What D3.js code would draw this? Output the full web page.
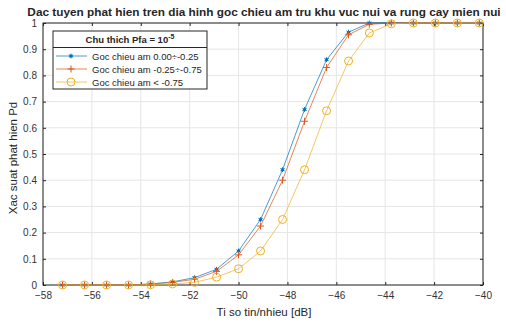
<!DOCTYPE html>
<html lang="vi">
<head>
<meta charset="UTF-8">
<script src="https://cdn.jsdelivr.net/npm/d3@7"></script>
<title>Dac tuyen phat hien</title>
<style>
    body { margin: 0; background: #fff; }
    text { font-family: "Liberation Sans", Arial, Helvetica, sans-serif; fill: #262626; }
    .grid line { stroke: #e6e6e6; stroke-width: 1; }
</style>
</head>
<body>
<script>
    // SNR (dB) va xac suat phat hien cho 3 khoang goc chieu am
    var snr = [-57.2, -56.3, -55.4, -54.5, -53.6, -52.7, -51.8, -50.9, -50.0, -49.1,
               -48.2, -47.3, -46.4, -45.5, -44.65, -43.75, -42.85, -41.95, -41.05, -40.15];
    var pdBlue = [0, 0, 0, 0, 0.004, 0.012, 0.028, 0.06, 0.13, 0.25,
                  0.44, 0.67, 0.86, 0.965, 1, 1, 1, 1, 1, 1];
    var pdRed = [0, 0, 0, 0, 0.003, 0.01, 0.022, 0.052, 0.115, 0.225,
                 0.40, 0.625, 0.83, 0.955, 0.995, 1, 1, 1, 1, 1];
    var pdYellow = [0, 0, 0, 0, 0.001, 0.004, 0.01, 0.03, 0.062, 0.13,
                    0.25, 0.44, 0.665, 0.855, 0.962, 0.997, 1, 1, 1, 1];
    var xTicks = d3.range(-58, -39, 2);
    var yTicks = d3.range(0, 11).map(function(d) { return d / 10; });
    var names = ["Goc chieu am 0.00\u00F7-0.25", "Goc chieu am -0.25\u00F7-0.75", "Goc chieu am < -0.75"];

    var width = 506, height = 322;
    var svg = d3.select("body").append("svg").attr("width", width).attr("height", height);
    var x = d3.scaleLinear().domain([-58, -40]).range([43, 483]);
    var y = d3.scaleLinear().domain([0, 1]).range([285, 23]);

    // luoi
    var grid = svg.append("g").attr("class", "grid");
    grid.selectAll(".gx").data(xTicks).enter().append("line")
        .attr("x1", function(d) { return x(d); }).attr("x2", function(d) { return x(d); })
        .attr("y1", y(0)).attr("y2", y(1));
    grid.selectAll(".gy").data(yTicks).enter().append("line")
        .attr("y1", function(d) { return y(d); }).attr("y2", function(d) { return y(d); })
        .attr("x1", x(-58)).attr("x2", x(-40));

    // truc
    var fmtY = function(d) { return d === 0 || d === 1 ? d3.format("d")(d) : d3.format(".1f")(d); };
    function styleAxis(g) {
        g.select(".domain").remove();
        g.selectAll(".tick line").attr("stroke", "#262626");
        g.selectAll(".tick text").attr("font-size", "10px").style("fill", "#333");
    }
    svg.append("g").attr("transform", "translate(0," + y(0) + ")")
        .call(d3.axisBottom(x).tickValues(xTicks).tickSize(-3).tickPadding(7).tickFormat(d3.format("d")))
        .call(styleAxis);
    svg.append("g").attr("transform", "translate(0," + y(1) + ")")
        .call(d3.axisTop(x).tickValues(xTicks).tickSize(-3).tickFormat(""))
        .call(styleAxis);
    svg.append("g").attr("transform", "translate(" + x(-58) + ",0)")
        .call(d3.axisLeft(y).tickValues(yTicks).tickSize(-3).tickPadding(6).tickFormat(fmtY))
        .call(styleAxis);
    svg.append("g").attr("transform", "translate(" + x(-40) + ",0)")
        .call(d3.axisRight(y).tickValues(yTicks).tickSize(-3).tickFormat(""))
        .call(styleAxis);
    svg.append("rect").attr("x", x(-58)).attr("y", y(1))
        .attr("width", x(-40) - x(-58)).attr("height", y(0) - y(1))
        .attr("fill", "none").attr("stroke", "#262626").attr("stroke-width", 1);

    // duong
    var series = [
        { values: pdBlue, color: "#0072BD", marker: "star" },
        { values: pdRed, color: "#D95319", marker: "plus" },
        { values: pdYellow, color: "#EDB120", marker: "circle" }
    ];
    var line = d3.line().x(function(d) { return x(d[0]); }).y(function(d) { return y(d[1]); });

    function drawMarker(g, type, color) {
        if (type === "star") {
            g.append("path").attr("d", d3.symbol(d3.symbolAsterisk, 16)())
                .attr("stroke", color).attr("stroke-width", 1).attr("fill", "none");
            g.append("circle").attr("r", 1.5).attr("fill", color);
        } else if (type === "plus") {
            g.append("path").attr("d", "M-3.5,0H3.5M0,-3.5V3.5")
                .attr("stroke", color).attr("stroke-width", 1);
        } else {
            g.append("circle").attr("r", 4).attr("fill", "none")
                .attr("stroke", color).attr("stroke-width", 1);
        }
    }

    series.forEach(function(s) {
        var pts = snr.map(function(v, i) { return [v, s.values[i]]; });
        svg.append("path").datum(pts).attr("d", line)
            .attr("fill", "none").attr("stroke", s.color).attr("stroke-opacity", 0.7).attr("stroke-width", 1);
        svg.append("g").selectAll("g").data(pts).enter().append("g")
            .attr("transform", function(d) { return "translate(" + x(d[0]) + "," + y(d[1]) + ")"; })
            .each(function() { drawMarker(d3.select(this), s.marker, s.color); });
    });

    // tieu de, nhan truc
    svg.append("text").attr("x", 264).attr("y", 16).attr("text-anchor", "middle")
        .attr("font-size", "11.8px").attr("font-weight", "bold")
        .text("Dac tuyen phat hien tren dia hinh goc chieu am tru khu vuc nui va rung cay mien nui");
    svg.append("text").attr("x", 264).attr("y", 316).attr("text-anchor", "middle")
        .attr("font-size", "11.5px").text("Ti so tin/nhieu [dB]");
    svg.append("text").attr("transform", "translate(17,158) rotate(-90)").attr("text-anchor", "middle")
        .attr("font-size", "11.5px").text("Xac suat phat hien Pd");

    // chu thich
    var lg = svg.append("g").attr("transform", "translate(53,31)");
    lg.append("rect").attr("width", 154).attr("height", 58)
        .attr("fill", "#fff").attr("stroke", "#262626").attr("stroke-width", 1);
    lg.append("line").attr("x1", 0).attr("x2", 154).attr("y1", 16.5).attr("y2", 16.5)
        .attr("stroke", "#262626").attr("stroke-width", 1);
    var tt = lg.append("text").attr("x", 77).attr("y", 12).attr("text-anchor", "middle")
        .attr("font-size", "9.5px").attr("font-weight", "bold");
    tt.append("tspan").text("Chu thich Pfa = 10");
    tt.append("tspan").attr("dy", -4).attr("font-size", "7px").text("-5");
    series.forEach(function(s, i) {
        var row = lg.append("g").attr("transform", "translate(0," + (25 + i * 13) + ")");
        row.append("line").attr("x1", 3).attr("x2", 34).attr("stroke", s.color)
            .attr("stroke-opacity", 0.7).attr("stroke-width", 1);
        drawMarker(row.append("g").attr("transform", "translate(18,0)"), s.marker, s.color);
        row.append("text").attr("x", 39).attr("y", 3.5).attr("font-size", "9.5px").text(names[i]);
    });
</script>
</body>
</html>
